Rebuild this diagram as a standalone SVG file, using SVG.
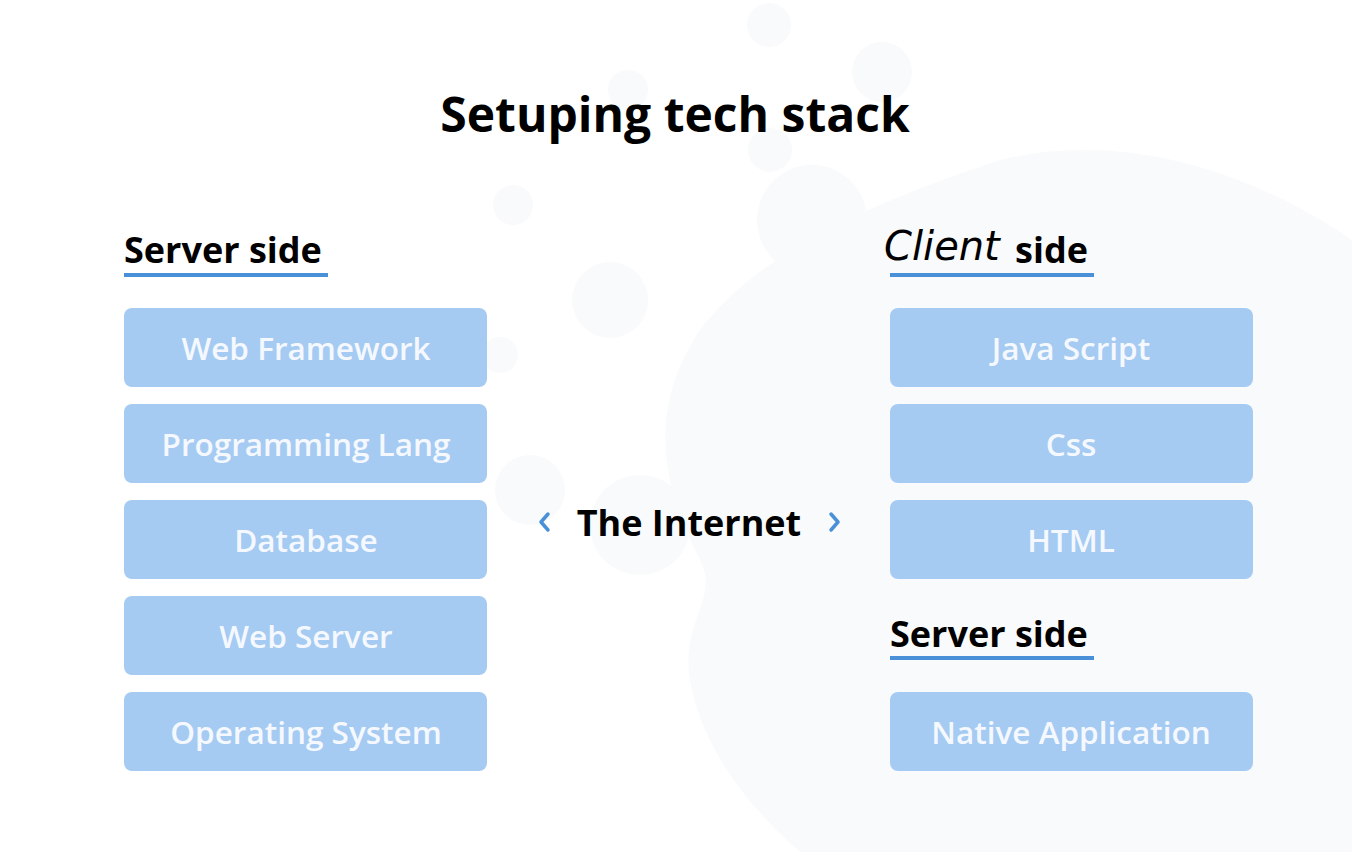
<svg xmlns="http://www.w3.org/2000/svg" width="1352" height="852" viewBox="0 0 1352 852">
<defs>
<style>
.bg{fill:#f9fafb}
.title{font-family:"Open Sans","Noto Sans",sans-serif;font-weight:700;font-size:48px;fill:#000}
.head{font-family:"Open Sans","Noto Sans",sans-serif;font-weight:700;font-size:36px;fill:#000}
.hand{font-family:"DejaVu Sans",sans-serif;font-weight:200;font-size:40px;fill:#000;font-style:italic}
.ul{stroke:#4a90d9;stroke-width:4}
.box{fill:#a6cbf2}
.lbl{font-family:"Open Sans","Noto Sans",sans-serif;font-weight:600;font-size:31.5px;fill:#f5f9ff;text-anchor:middle}
.chev{fill:none;stroke:#4a90d9;stroke-width:3.5;stroke-linecap:round;stroke-linejoin:round}
</style>
</defs>
<rect width="1352" height="852" fill="#ffffff"/>
<g id="background">
<circle class="bg" cx="769" cy="25" r="22"/>
<circle class="bg" cx="770" cy="150" r="22"/>
<circle class="bg" cx="882" cy="72" r="30"/>
<circle class="bg" cx="628" cy="90" r="20"/>
<circle class="bg" cx="513" cy="205" r="20"/>
<circle class="bg" cx="812" cy="220" r="55"/>
<circle class="bg" cx="610" cy="300" r="38"/>
<circle class="bg" cx="500" cy="355" r="18"/>
<circle class="bg" cx="530" cy="490" r="35"/>
<circle class="bg" cx="640" cy="525" r="50"/>
<path class="bg" d="M700 330 C760 250 880 200 1000 160 C1120 130 1250 170 1352 240 L1352 852 L800 852 C740 800 700 740 690 680 C680 620 720 600 700 560 C670 500 640 420 700 330 Z"/>
</g>
<g id="title"><text class="title" x="675" y="132" text-anchor="middle">Setuping tech stack</text></g>
<g id="server-side-left">
<text class="head" x="124" y="263">Server side</text>
<line class="ul" x1="124" y1="275" x2="328" y2="275"/>
</g>
<g id="web-framework"><rect class="box" x="124" y="308" width="363" height="79" rx="8"/><text class="lbl" x="306" y="360">Web Framework</text></g>
<g id="programming-lang"><rect class="box" x="124" y="404" width="363" height="79" rx="8"/><text class="lbl" x="306" y="456">Programming Lang</text></g>
<g id="database"><rect class="box" x="124" y="500" width="363" height="79" rx="8"/><text class="lbl" x="306" y="552">Database</text></g>
<g id="web-server"><rect class="box" x="124" y="596" width="363" height="79" rx="8"/><text class="lbl" x="306" y="648">Web Server</text></g>
<g id="operating-system"><rect class="box" x="124" y="692" width="363" height="79" rx="8"/><text class="lbl" x="306" y="744">Operating System</text></g>
<g id="internet">
<text class="head" x="689" y="536" text-anchor="middle">The Internet</text>
</g>
<g id="connectors">
<polyline class="chev" points="548,514 541,522 548,530"/>
<polyline class="chev" points="831,514 838,522 831,530"/>
</g>
<g id="client-side">
<text class="hand" x="884" y="260">Client</text>
<text class="head" x="1015" y="263">side</text>
<line class="ul" x1="890" y1="275" x2="1094" y2="275"/>
</g>
<g id="java-script"><rect class="box" x="890" y="308" width="363" height="79" rx="8"/><text class="lbl" x="1071" y="360">Java Script</text></g>
<g id="css"><rect class="box" x="890" y="404" width="363" height="79" rx="8"/><text class="lbl" x="1071" y="456">Css</text></g>
<g id="html"><rect class="box" x="890" y="500" width="363" height="79" rx="8"/><text class="lbl" x="1071" y="552">HTML</text></g>
<g id="server-side-right">
<text class="head" x="890" y="647">Server side</text>
<line class="ul" x1="890" y1="658" x2="1094" y2="658"/>
</g>
<g id="native-application"><rect class="box" x="890" y="692" width="363" height="79" rx="8"/><text class="lbl" x="1071" y="744">Native Application</text></g>
</svg>
